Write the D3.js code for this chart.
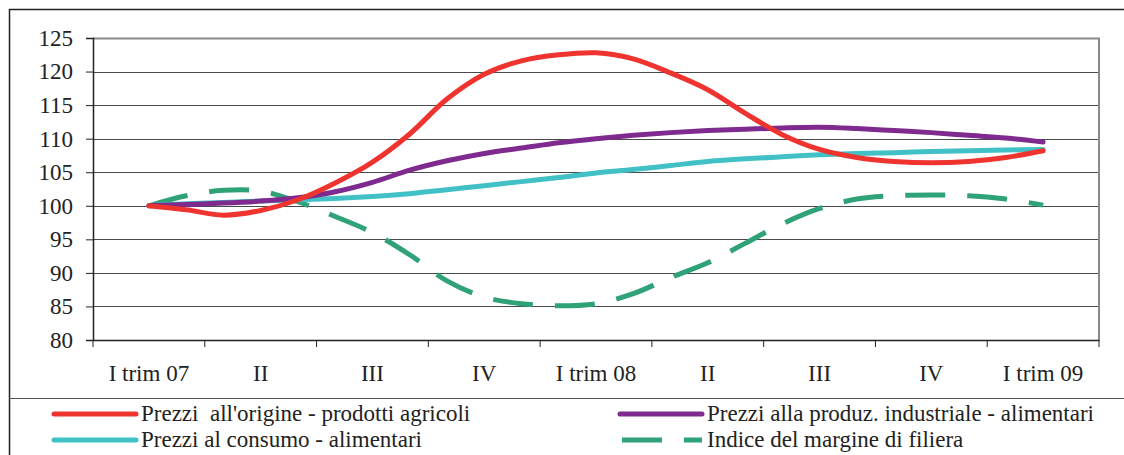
<!DOCTYPE html>
<html>
<head>
<meta charset="utf-8">
<script src="https://cdn.jsdelivr.net/npm/d3@7"></script>
<style>
  body { margin: 0; background: #fff; }
</style>
</head>
<body>
<div class="linechart"></div>
<script>
// quarters on the x axis
var categories = ['I trim 07', 'II', 'III', 'IV', 'I trim 08', 'II', 'III', 'IV', 'I trim 09'];
var yTicks = [80, 85, 90, 95, 100, 105, 110, 115, 120, 125];

// monthly readings, Jan 07 .. Jan 09 (25 points)
var agricoli = [100, 99.4, 98.6, 99.3, 100.9, 103.4, 106.5, 110.7, 115.9, 119.6, 121.6, 122.5, 122.8,
                121.9, 119.8, 117.3, 113.8, 110.6, 108.4, 107.2, 106.6, 106.4, 106.6, 107.2, 108.2];
var industriali = [100, 100.2, 100.4, 100.7, 101.2, 102.1, 103.5, 105.3, 106.7, 107.8, 108.6, 109.4, 110.0,
                   110.5, 110.9, 111.2, 111.4, 111.6, 111.7, 111.5, 111.2, 110.9, 110.5, 110.1, 109.5];
var consumo = [100, 100.3, 100.5, 100.7, 100.9, 101.1, 101.4, 101.8, 102.4, 103.0, 103.6, 104.2, 104.9,
               105.4, 106.0, 106.6, 107.0, 107.3, 107.6, 107.8, 107.9, 108.1, 108.2, 108.3, 108.4];
var margine = [100, 101.5, 102.3, 102.2, 100.6, 98.4, 96.0, 92.7, 88.8, 86.4, 85.4, 85.1, 85.4,
               86.9, 89.3, 91.5, 94.4, 97.3, 99.6, 101.0, 101.5, 101.6, 101.5, 101.0, 100.1];

var series = [
    {name: "Prezzi  all'origine - prodotti agricoli", values: agricoli, color: '#ef3430', dash: null},
    {name: 'Prezzi alla produz. industriale - alimentari', values: industriali, color: '#7e2a8e', dash: null},
    {name: 'Prezzi al consumo - alimentari', values: consumo, color: '#41c1c6', dash: null},
    {name: 'Indice del margine di filiera', values: margine, color: '#2fa277', dash: '40,22'}
];

var FONT = '"Liberation Serif", "DejaVu Serif", "Times New Roman", serif';
var FS = 23;

var W = 1124, H = 455;
var margin = {top: 38, right: 25, bottom: 115, left: 93},
    width = W - margin.left - margin.right,
    height = H - margin.top - margin.bottom;

var svg = d3.select('.linechart').append('svg')
    .attr('width', W)
    .attr('height', H);

// outer frame
svg.append('rect')
    .attr('x', 9.5).attr('y', 9.5)
    .attr('width', W + 10).attr('height', H + 10)
    .attr('fill', 'none').attr('stroke', '#222').attr('stroke-width', 1.5);

// legend separator
svg.append('line')
    .attr('x1', 9).attr('x2', W)
    .attr('y1', 398.5).attr('y2', 398.5)
    .attr('stroke', '#555').attr('stroke-width', 1.2);

var g = svg.append('g')
    .attr('transform', 'translate(' + margin.left + ',' + margin.top + ')');

var x = d3.scaleBand()
    .domain(d3.range(categories.length))
    .range([0, width]);

var y = d3.scaleLinear()
    .domain([80, 125])
    .range([height, 0]);

// month index -> centre of quarters
var xm = d3.scaleLinear()
    .domain([0, 24])
    .range([x(0) + x.bandwidth() / 2, x(8) + x.bandwidth() / 2]);

// gridlines
g.append('g').attr('class', 'grid')
    .selectAll('line')
    .data(yTicks.filter(function(d) { return d < 125; }))
    .enter().append('line')
    .attr('x1', 0).attr('x2', width)
    .attr('y1', function(d) { return Math.round(y(d)) + 0.5; })
    .attr('y2', function(d) { return Math.round(y(d)) + 0.5; })
    .attr('stroke', '#4a4a4a').attr('stroke-width', 1);

// top and right plot border
g.append('path')
    .attr('d', 'M0,0.5H' + width + 'V' + height)
    .attr('fill', 'none').attr('stroke', '#8a8a8a').attr('stroke-width', 2);

// y axis
var yAxis = g.append('g')
    .call(d3.axisLeft(y).tickValues(yTicks).tickSize(7).tickPadding(13));
yAxis.attr('font-family', FONT).attr('font-size', FS);
yAxis.select('.domain').attr('stroke', '#222').attr('stroke-width', 1.5);
yAxis.selectAll('.tick line').attr('stroke', '#222');
yAxis.selectAll('text').attr('fill', '#222');

// x axis
var xAxis = g.append('g')
    .attr('transform', 'translate(0,' + height + ')')
    .call(d3.axisBottom(x).tickSize(0).tickPadding(25).tickFormat(function(i) { return categories[i]; }));
xAxis.attr('font-family', FONT).attr('font-size', FS);
xAxis.select('.domain').attr('stroke', '#222').attr('stroke-width', 1.5);
xAxis.selectAll('text').attr('fill', '#222');

xAxis.selectAll('.qtick')
    .data(d3.range(categories.length + 1))
    .enter().append('line')
    .attr('class', 'qtick')
    .attr('x1', function(i) { return i * x.step(); })
    .attr('x2', function(i) { return i * x.step(); })
    .attr('y1', 0).attr('y2', 7)
    .attr('stroke', '#222');

// lines
var line = d3.line()
    .x(function(d, i) { return xm(i); })
    .y(function(d) { return y(d); })
    .curve(d3.curveCatmullRom.alpha(0.5));

g.append('g').attr('class', 'lines')
    .selectAll('path')
    .data([series[3], series[2], series[1], series[0]])
    .enter().append('path')
    .attr('d', function(s) { return line(s.values); })
    .attr('fill', 'none')
    .attr('stroke', function(s) { return s.color; })
    .attr('stroke-width', 5)
    .attr('stroke-linejoin', 'round')
    .attr('stroke-linecap', function(s) { return s.dash ? 'butt' : 'round'; })
    .attr('stroke-dasharray', function(s) { return s.dash; });

// legend
var legendPos = [[54, 414], [620, 414], [54, 440], [620, 440]];
var legend = svg.append('g').attr('class', 'legend')
    .attr('font-family', FONT).attr('font-size', FS)
    .selectAll('g')
    .data(series)
    .enter().append('g')
    .attr('transform', function(s, i) { return 'translate(' + legendPos[i][0] + ',' + legendPos[i][1] + ')'; });

legend.append('line')
    .attr('x1', function(s) { return s.dash ? 2 : 0; })
    .attr('x2', 82)
    .attr('stroke', function(s) { return s.color; })
    .attr('stroke-width', 5)
    .attr('stroke-linecap', function(s) { return s.dash ? 'butt' : 'round'; })
    .attr('stroke-dasharray', function(s) { return s.dash; });

legend.append('text')
    .attr('x', 87)
    .attr('y', 7)
    .attr('fill', '#222')
    .style('white-space', 'pre')
    .text(function(s) { return s.name; });
</script>
</body>
</html>
